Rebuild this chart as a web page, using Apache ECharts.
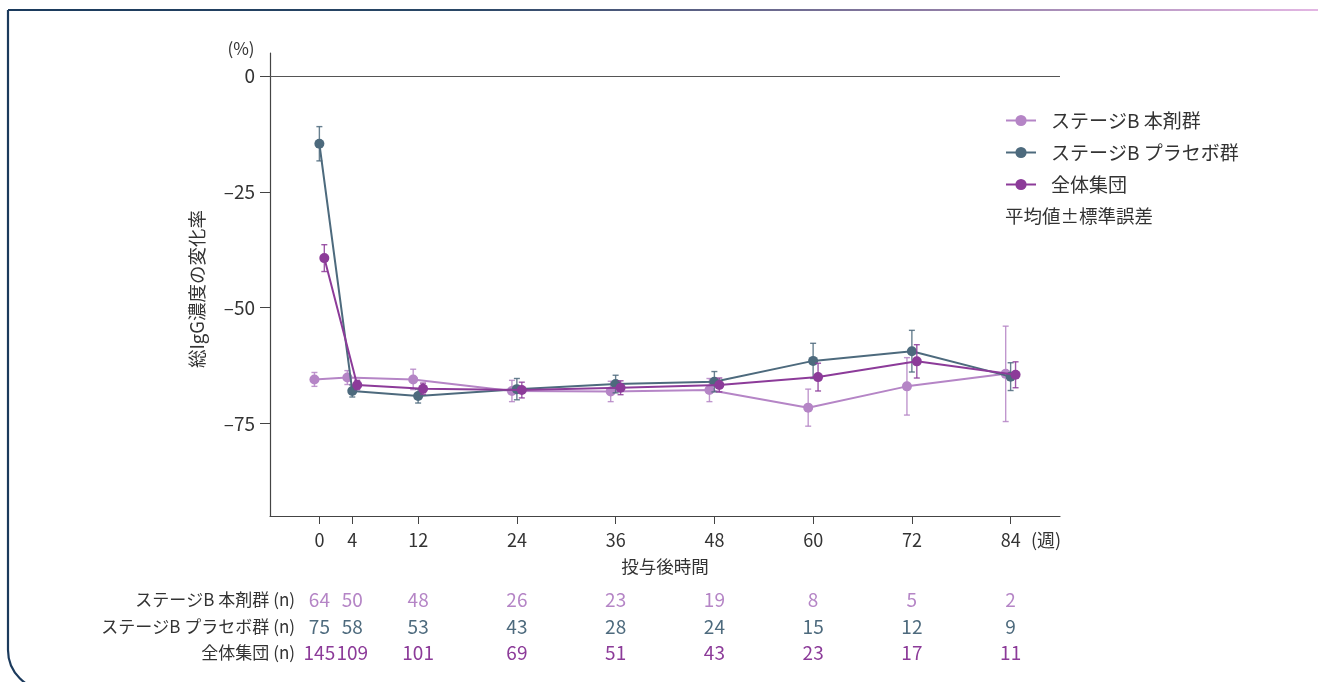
<!DOCTYPE html>
<html lang="ja">
<head>
<meta charset="utf-8">
<title>総IgG濃度の変化率</title>
<script src="https://cdn.jsdelivr.net/npm/echarts@6/dist/echarts.min.js"></script>
<style>
  html, body { margin: 0; padding: 0; background: #ffffff; }
  #chart { width: 1318px; height: 682px; }
</style>
</head>
<body>
<div id="chart"></div>
<script>
// Weeks after dosing
const weeks = [0, 4, 12, 24, 36, 48, 60, 72, 84];

// Mean % change in total IgG, with standard error
const drugMean    = [-65.5, -65.1, -65.5, -68.0, -68.1, -67.8, -71.6, -67.0, -64.3];
const drugSE      = [1.5, 1.5, 2.2, 2.3, 2.2, 2.5, 4.0, 6.2, 10.3];
const placeboMean = [-14.6, -68.0, -69.1, -67.6, -66.5, -66.0, -61.5, -59.4, -64.9];
const placeboSE   = [3.7, 1.3, 1.5, 2.3, 1.9, 2.2, 3.8, 4.5, 3.0];
const allMean     = [-39.3, -66.7, -67.5, -67.8, -67.3, -66.7, -65.0, -61.6, -64.5];
const allSE       = [2.9, 1.0, 1.2, 1.7, 1.5, 1.5, 3.0, 3.6, 2.8];

// Patients at risk
const drugN    = [64, 50, 48, 26, 23, 19, 8, 5, 2];
const placeboN = [75, 58, 53, 43, 28, 24, 15, 12, 9];
const allN     = [145, 109, 101, 69, 51, 43, 23, 17, 11];

const yTicks = [0, -25, -50, -75];
const seriesNames = ['ステージB 本剤群', 'ステージB プラセボ群', '全体集団'];
const rowLabels = ['ステージB 本剤群 (n)', 'ステージB プラセボ群 (n)', '全体集団 (n)'];

const COLORS = ['#b585c6', '#4d6a7d', '#8c3b99'];
const FONT = '"Noto Sans CJK JP", "Noto Sans", sans-serif';
const TEXT = '#333333';
const X_MIN = -6, X_MAX = 90, DODGE = 0.6;

const groups = [
  { name: seriesNames[0], mean: drugMean, se: drugSE, n: drugN, shift: -DODGE },
  { name: seriesNames[1], mean: placeboMean, se: placeboSE, n: placeboN, shift: 0 },
  { name: seriesNames[2], mean: allMean, se: allSE, n: allN, shift: DODGE }
];

const grid = { left: 270, right: 258, top: 53, bottom: 166 };

// one visible x axis plus two hidden, slightly shifted ones to dodge the groups
const xAxes = groups.map((g, i) => ({
  type: 'value',
  gridIndex: 0,
  position: 'bottom',
  offset: 0,
  min: X_MIN - g.shift,
  max: X_MAX - g.shift,
  show: i === 1,
  axisLine: { show: true, onZero: false, lineStyle: { color: '#444', width: 1.2 } },
  axisTick: { show: true, length: 8, customValues: weeks, lineStyle: { color: '#444' } },
  axisLabel: {
    show: true, customValues: weeks, margin: 15,
    fontFamily: FONT, fontSize: 18, color: TEXT
  },
  splitLine: { show: false }
}));

const minus = v => String(v).replace('-', '\u2013');

const series = [];
groups.forEach((g, i) => {
  const pts = weeks.map((w, k) => [w, g.mean[k], g.se[k]]);
  // error bars
  series.push({
    type: 'custom',
    xAxisIndex: i,
    yAxisIndex: 0,
    z: 2 + i * 3,
    silent: true,
    data: pts,
    renderItem: (params, api) => {
      const x = api.value(0), m = api.value(1), s = api.value(2);
      const top = api.coord([x, m + s]);
      const bot = api.coord([x, m - s]);
      const cap = 3;
      const st = { stroke: COLORS[i], lineWidth: 1.4, opacity: 0.85 };
      return {
        type: 'group',
        children: [
          { type: 'line', shape: { x1: top[0], y1: top[1], x2: bot[0], y2: bot[1] }, style: st },
          { type: 'line', shape: { x1: top[0] - cap, y1: top[1], x2: top[0] + cap, y2: top[1] }, style: st },
          { type: 'line', shape: { x1: bot[0] - cap, y1: bot[1], x2: bot[0] + cap, y2: bot[1] }, style: st }
        ]
      };
    }
  });
  // mean line with markers
  series.push({
    type: 'line',
    name: g.name,
    xAxisIndex: i,
    yAxisIndex: 0,
    z: 3 + i * 3,
    data: pts.map(p => [p[0], p[1]]),
    symbol: 'circle',
    symbolSize: 10,
    showSymbol: true,
    color: COLORS[i],
    lineStyle: { color: COLORS[i], width: 2 },
    itemStyle: { color: COLORS[i] },
    emphasis: { disabled: true },
    markLine: i === 1 ? {
      silent: true,
      symbol: ['none', 'none'],
      label: { show: false },
      lineStyle: { color: '#555', width: 1.2, type: 'solid' },
      data: [{ yAxis: 0 }]
    } : undefined
  });
});

const chart = echarts.init(document.getElementById('chart'), null, { renderer: 'canvas' });

const baseGraphics = [
  // panel frame
  {
    type: 'rect',
    silent: true,
    z: 0,
    shape: { x: 8, y: 10, width: 1400, height: 680, r: [0, 0, 0, 40] },
    style: {
      fill: 'none',
      lineWidth: 2.2,
      stroke: new echarts.graphic.LinearGradient(8, 0, 1318, 0, [
        { offset: 0, color: '#1b3a5c' },
        { offset: 0.35, color: '#2a4766' },
        { offset: 0.7, color: '#8c7ba3' },
        { offset: 1, color: '#e3b6e3' }
      ], true)
    }
  },
  { type: 'text', x: 241, y: 49, style: { text: '(%)', font: '17px ' + FONT, fill: TEXT, align: 'center', verticalAlign: 'middle' } },
  {
    type: 'text', x: 197, y: 289, rotation: Math.PI / 2,
    style: { text: '総IgG濃度の変化率', font: '18.5px ' + FONT, fill: TEXT, align: 'center', verticalAlign: 'middle' }
  },
  { type: 'text', x: 1031, y: 540, style: { text: '(週)', font: '18px ' + FONT, fill: TEXT, align: 'left', verticalAlign: 'middle' } },
  { type: 'text', x: 665, y: 566, style: { text: '投与後時間', font: '17.5px ' + FONT, fill: TEXT, align: 'center', verticalAlign: 'middle' } },
  { type: 'text', x: 1005, y: 216, style: { text: '平均値±標準誤差', font: '18.5px ' + FONT, fill: TEXT, align: 'left', verticalAlign: 'middle' } }
];

chart.setOption({
  animation: false,
  backgroundColor: '#ffffff',
  color: COLORS,
  textStyle: { fontFamily: FONT },
  grid: grid,
  xAxis: xAxes,
  yAxis: {
    type: 'value',
    min: -95,
    max: 5,
    axisLine: { show: true, onZero: false, lineStyle: { color: '#444', width: 1.2 } },
    axisTick: { show: true, length: 10, customValues: yTicks, lineStyle: { color: '#444' } },
    axisLabel: {
      show: true, customValues: yTicks, margin: 15,
      fontFamily: FONT, fontSize: 19, color: TEXT,
      formatter: v => minus(v)
    },
    splitLine: { show: false }
  },
  legend: {
    orient: 'vertical',
    left: 1000,
    top: 106,
    itemWidth: 30,
    itemHeight: 14,
    itemGap: 13,
    selectedMode: false,
    data: seriesNames,
    textStyle: { fontFamily: FONT, fontSize: 19, color: TEXT, padding: [0, 0, 0, 10] }
  },
  series: series,
  graphic: baseGraphics
});

// number-at-risk table under the axis, columns aligned to the week ticks
const rowY = [600, 627, 653];
const tableGraphics = [];
groups.forEach((g, r) => {
  tableGraphics.push({
    type: 'text', x: 295, y: rowY[r],
    style: { text: rowLabels[r], font: '17px ' + FONT, fill: TEXT, align: 'right', verticalAlign: 'middle' }
  });
  weeks.forEach((w, k) => {
    const px = chart.convertToPixel({ xAxisIndex: 1 }, w);
    tableGraphics.push({
      type: 'text', x: px, y: rowY[r],
      style: { text: String(g.n[k]), font: '19px ' + FONT, fill: COLORS[r], align: 'center', verticalAlign: 'middle' }
    });
  });
});

chart.setOption({ graphic: baseGraphics.concat(tableGraphics) }, { replaceMerge: ['graphic'] });
</script>
</body>
</html>
